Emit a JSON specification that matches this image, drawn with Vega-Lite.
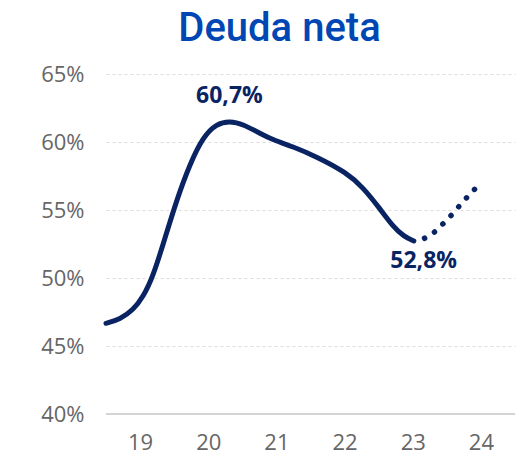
{
  "$schema": "https://vega.github.io/schema/vega-lite/v6.json",
  "width": 409,
  "height": 340,
  "autosize": {"type": "none"},
  "padding": {"left": 106, "top": 74, "right": 9, "bottom": 47},
  "background": "white",
  "config": {"view": {"stroke": null}},
  "title": {
    "text": "Deuda neta",
    "font": "Roboto",
    "fontSize": 40,
    "fontWeight": 500,
    "color": "#0047b3",
    "anchor": "middle",
    "frame": "group",
    "dx": -31,
    "offset": 14
  },
  "datasets": {
    "line": [
      {"x": 18.5, "y": 46.67},
      {"x": 18.705, "y": 46.96},
      {"x": 18.9, "y": 47.65},
      {"x": 19.047, "y": 48.63},
      {"x": 19.19, "y": 50.1},
      {"x": 19.37, "y": 53.0},
      {"x": 19.537, "y": 55.74},
      {"x": 19.732, "y": 58.4},
      {"x": 19.927, "y": 60.4},
      {"x": 20.123, "y": 61.35},
      {"x": 20.318, "y": 61.55},
      {"x": 20.513, "y": 61.3},
      {"x": 20.758, "y": 60.64},
      {"x": 20.953, "y": 60.15},
      {"x": 21.246, "y": 59.65},
      {"x": 21.589, "y": 58.92},
      {"x": 22.029, "y": 57.75},
      {"x": 22.273, "y": 56.65},
      {"x": 22.518, "y": 55.1},
      {"x": 22.713, "y": 53.77},
      {"x": 22.87, "y": 53.05},
      {"x": 23.016, "y": 52.72}
    ],
    "proj": [
      {"x": 23.173, "y": 52.92},
      {"x": 23.324, "y": 53.4},
      {"x": 23.46, "y": 54.07},
      {"x": 23.583, "y": 54.71},
      {"x": 23.7, "y": 55.39},
      {"x": 23.818, "y": 56.05},
      {"x": 23.95, "y": 56.75}
    ],
    "labels": [
      {"x": 20.31, "y": 62.87, "label": "60,7%"},
      {"x": 23.16, "y": 50.74, "label": "52,8%"}
    ]
  },
  "layer": [
    {
      "data": {"name": "line"},
      "mark": {"type": "line", "interpolate": "basis", "color": "#0a2463", "strokeWidth": 5, "strokeCap": "round"},
      "encoding": {
        "x": {
          "field": "x", "type": "quantitative",
          "scale": {"domain": [18.5, 24.5], "nice": false, "zero": false},
          "axis": {
            "values": [19, 20, 21, 22, 23, 24],
            "format": "d",
            "title": null,
            "grid": false,
            "domain": false,
            "ticks": false,
            "labelFont": "Open Sans",
            "labelFontSize": 22,
            "labelColor": "#666666",
            "labelPadding": 18
          }
        },
        "y": {
          "field": "y", "type": "quantitative",
          "scale": {"domain": [40, 65], "nice": false, "zero": false},
          "axis": {
            "values": [40, 45, 50, 55, 60, 65],
            "labelExpr": "datum.value + '%'",
            "title": null,
            "domain": false,
            "ticks": false,
            "grid": true,
            "gridColor": "#dddddd",
            "gridDash": [3, 3],
            "gridWidth": 1,
            "labelFont": "Open Sans",
            "labelFontSize": 22,
            "labelColor": "#666666",
            "labelPadding": 22
          }
        }
      }
    },
    {
      "data": {"values": [{"y": 40}]},
      "mark": {"type": "rule", "color": "#d4d4d4", "strokeWidth": 2},
      "encoding": {"y": {"field": "y", "type": "quantitative"}}
    },
    {
      "data": {"name": "proj"},
      "mark": {"type": "line", "interpolate": "monotone", "color": "#0a2463", "strokeWidth": 5.5, "strokeCap": "round", "strokeDash": [0.1, 11.6]},
      "encoding": {
        "x": {"field": "x", "type": "quantitative"},
        "y": {"field": "y", "type": "quantitative"}
      }
    },
    {
      "data": {"name": "labels"},
      "mark": {"type": "text", "font": "Open Sans", "fontSize": 23, "fontWeight": "bold", "color": "#0a2463", "align": "center", "baseline": "alphabetic"},
      "encoding": {
        "x": {"field": "x", "type": "quantitative"},
        "y": {"field": "y", "type": "quantitative"},
        "text": {"field": "label"}
      }
    }
  ]
}
